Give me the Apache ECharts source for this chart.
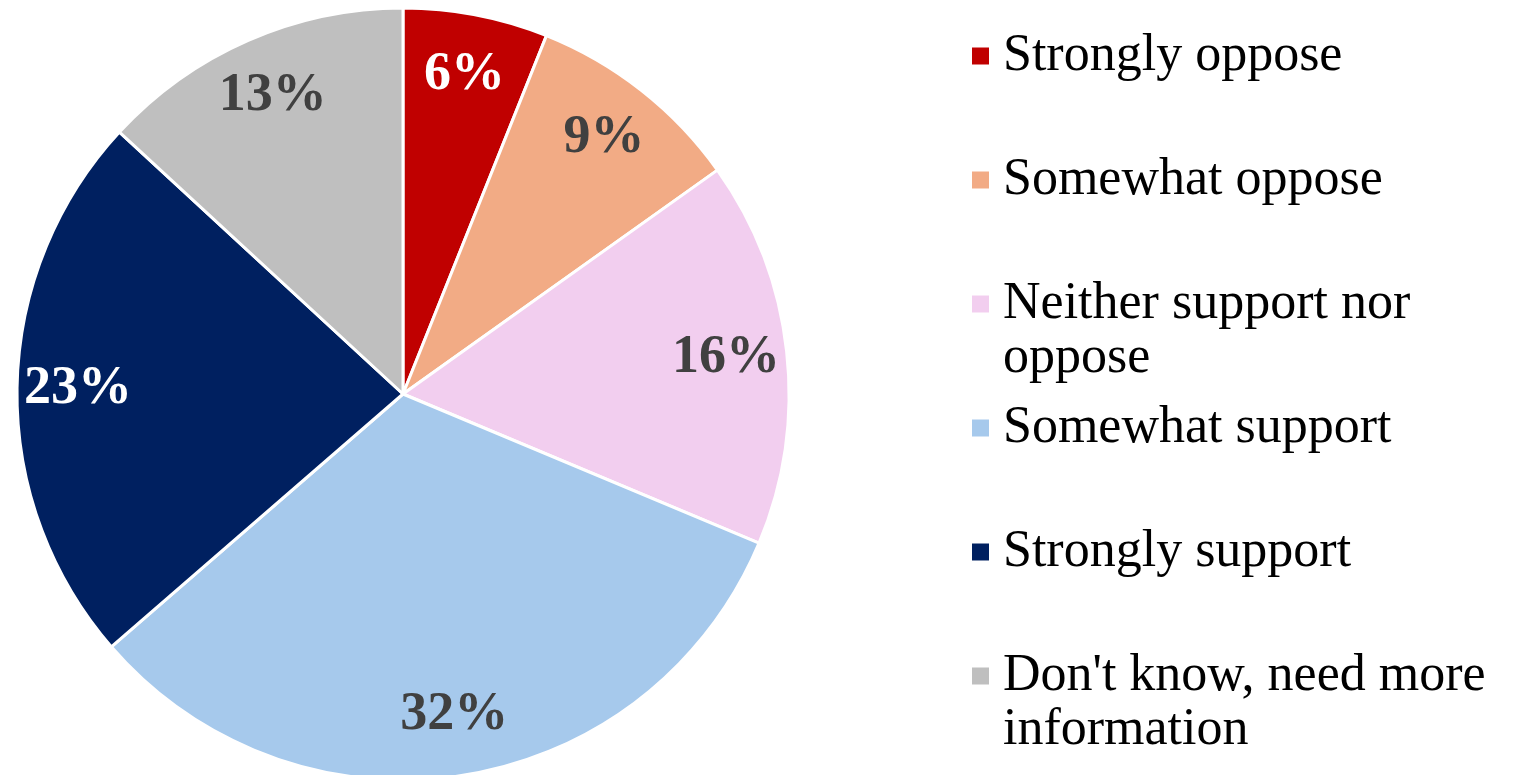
<!DOCTYPE html>
<html>
<head>
<meta charset="utf-8">
<script src="https://cdn.jsdelivr.net/npm/echarts@6/dist/echarts.min.js"></script>
<style>
  html, body { margin: 0; padding: 0; background: #ffffff; }
  #chart { width: 1521px; height: 775px; }
</style>
</head>
<body>
<div id="chart"></div>
<script>
// Survey responses, in the order they go round the pie (clockwise from 12 o'clock)
const categories = [
  'Strongly oppose',
  'Somewhat oppose',
  'Neither support nor oppose',
  'Somewhat support',
  'Strongly support',
  "Don't know, need more information"
];
const shares = [6, 9, 16, 32, 23, 13];
const sliceColors = ['#C00000', '#F2AB85', '#F2CEEF', '#A6C9EC', '#002060', '#BFBFBF'];
const labelColors = ['#ffffff', '#404040', '#404040', '#404040', '#ffffff', '#404040'];
// legend text, wrapped as it is set beside the pie
const legendLines = {
  'Neither support nor oppose': ['Neither support nor', 'oppose'],
  "Don't know, need more information": ["Don't know, need more", 'information']
};

const FONT = "'Liberation Serif', 'Times New Roman', serif";
const LINE = 54;
const CENTER = [403, 394];
const RADIUS = 386;

const sliceData = categories.map((name, i) => ({
  name,
  value: shares[i],
  itemStyle: { color: sliceColors[i] }
}));

const labelData = categories.map((name, i) => ({
  name,
  value: shares[i],
  label: { color: labelColors[i] }
}));

// Every legend entry is three lines tall (an empty line on top), so the
// swatch, which is centred on the block, lines up with the first text line.
function legendLabel(name) {
  const lines = legendLines[name] || [name, ''];
  return ['', lines[0], lines[1]].join('\n');
}

const chart = echarts.init(document.getElementById('chart'), null, { renderer: 'canvas' });
chart.setOption({
  animation: false,
  backgroundColor: '#ffffff',
  legend: {
    orient: 'vertical',
    left: 970,
    top: -25,
    height: 1000,
    padding: 0,
    itemGap: -38,
    itemWidth: 19,
    itemHeight: 19,
    icon: 'rect',
    selectedMode: false,
    data: categories,
    formatter: legendLabel,
    textStyle: {
      fontFamily: FONT,
      fontSize: 52,
      lineHeight: LINE,
      padding: [0, 0, 0, 8],
      color: '#000000'
    }
  },
  series: [
    {
      name: 'Slices',
      type: 'pie',
      center: CENTER,
      radius: RADIUS,
      startAngle: 90,
      clockwise: true,
      avoidLabelOverlap: false,
      silent: true,
      label: { show: false },
      labelLine: { show: false },
      itemStyle: { borderColor: '#ffffff', borderWidth: 3 },
      data: sliceData
    },
    {
      // ring carrying the percentage labels near the outer edge of each slice
      name: 'Labels',
      type: 'pie',
      center: CENTER,
      radius: [258, RADIUS],
      startAngle: 90,
      clockwise: true,
      avoidLabelOverlap: false,
      silent: true,
      legendHoverLink: false,
      itemStyle: { color: 'rgba(0,0,0,0)', borderWidth: 0 },
      labelLine: { show: false },
      label: {
        show: true,
        position: 'inside',
        formatter: '{c}%',
        fontFamily: FONT,
        fontWeight: 'bold',
        fontSize: 54
      },
      data: labelData
    }
  ]
});
</script>
</body>
</html>
